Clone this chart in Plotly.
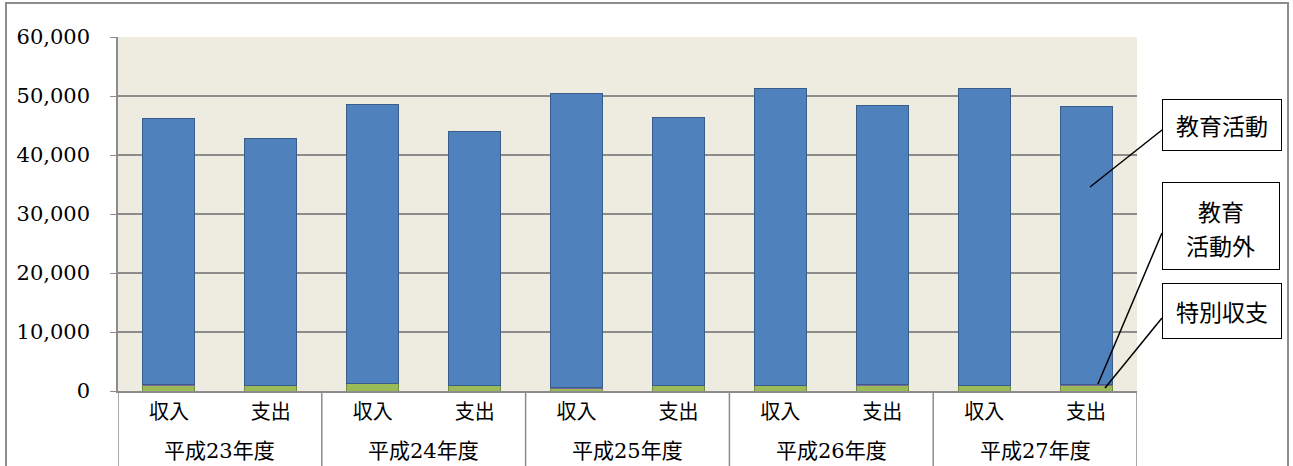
import plotly.graph_objects as go

years = ["平成23年度", "平成24年度", "平成25年度", "平成26年度", "平成27年度"]
kinds = ["収入", "支出"]
totals = [46200, 42800, 48500, 44000, 50500, 46400, 51300, 48400, 51300, 48300]
outside = [1000, 900, 1300, 900, 500, 850, 850, 1000, 850, 1000]   # 教育活動外
special = [40, 30, 40, 30, 40, 30, 40, 30, 40, 30]                  # 特別収支
activity = [t - o - s for t, o, s in zip(totals, outside, special)]  # 教育活動

cats = [f"{y}_{k}" for y in years for k in kinds]
inner = [k for _ in years for k in kinds]

fig = go.Figure()
fig.add_bar(x=cats, y=outside, name="教育活動外", marker=dict(color="#9BBB59", line=dict(color="#71893F", width=1)))
fig.add_bar(x=cats, y=special, name="特別収支", marker=dict(color="#8064A2", line=dict(width=0)))
fig.add_bar(x=cats, y=activity, name="教育活動", marker=dict(color="#4F81BD", line=dict(color="#385D8A", width=1)))

serif = "DejaVu Serif, Noto Sans CJK JP, serif"
cjk = "Noto Sans CJK JP, DejaVu Serif"

fig.update_layout(
    barmode="stack",
    bargap=0.49,
    width=1293, height=466,
    margin=dict(l=118, r=156, t=37, b=75, autoexpand=False),
    plot_bgcolor="#EEECE1",
    paper_bgcolor="white",
    showlegend=False,
    font=dict(family=serif, size=19, color="black"),
)
fig.update_yaxes(
    range=[0, 60000], dtick=10000, tickformat=",",
    showgrid=True, gridcolor="#8C8C8C", gridwidth=1.5,
    showline=True, linecolor="#8C8C8C", linewidth=1.5,
    ticks="outside", ticklen=6, tickcolor="#8C8C8C",
    tickfont=dict(family=serif, size=21, color="black"),
    ticklabelstandoff=16,
    zeroline=False, automargin=False,
)
fig.update_xaxes(
    type="category", range=[-0.5, len(cats) - 0.5],
    tickvals=cats, ticktext=inner,
    showline=True, linecolor="#8C8C8C", linewidth=2,
    ticks="", tickfont=dict(family=cjk, size=20, color="black"),
    ticklabelstandoff=2, automargin=False,
)

# outer category labels and group dividers
for i, y in enumerate(years):
    fig.add_annotation(text=y, x=2 * i + 0.5, xref="x", y=-0.17, yref="paper",
                       yanchor="middle", showarrow=False,
                       font=dict(family=serif, size=21, color="black"))
for i in range(len(years) + 1):
    fig.add_shape(type="line", xref="x", yref="paper", x0=2 * i - 0.5, x1=2 * i - 0.5,
                  y0=0, y1=-0.3, line=dict(color="#8C8C8C", width=1.5))

# series label boxes with connector lines
box = dict(showarrow=False, bordercolor="black", borderwidth=1, bgcolor="white",
           font=dict(family="Noto Sans CJK JP", size=23, color="black"),
           xref="paper", yref="paper", xanchor="center", yanchor="middle")
fig.add_annotation(text="教育活動", x=1.0834, y=0.7528, width=116, height=48, **box)
fig.add_annotation(text=" ", x=1.0824, y=0.4647, width=114, height=84, **box)
fig.add_annotation(text="特別収支", x=1.0834, y=0.2274, width=116, height=52, **box)
for txt, yy in [("教育", 0.5085), ("活動外", 0.4124)]:
    fig.add_annotation(text=txt, x=1.0824, y=yy, xref="paper", yref="paper", showarrow=False,
                       xanchor="center", yanchor="middle",
                       font=dict(family="Noto Sans CJK JP", size=23, color="black"))
for (x0, y0, x1, y1) in [(0.9539, 0.5763, 1.0245, 0.7373),
                         (0.9617, 0.0198, 1.0245, 0.4463),
                         (0.9686, 0.0085, 1.0245, 0.2062)]:
    fig.add_shape(type="line", xref="paper", yref="paper", x0=x0, y0=y0, x1=x1, y1=y1,
                  line=dict(color="black", width=1.5))

# outer chart border
fig.add_shape(type="rect", xref="paper", yref="paper",
              x0=-0.1099, x1=1.1482, y0=-0.25, y1=1.096,
              line=dict(color="#8C8C8C", width=2), layer="below")

fig.write_html("out.html", config={"displayModeBar": False},
               post_script="document.body.style.margin='0';document.body.style.overflow='hidden';")
